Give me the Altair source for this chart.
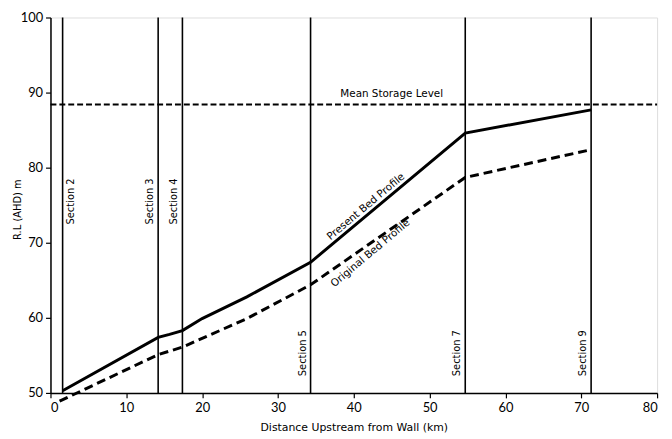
import altair as alt
import pandas as pd

# ---- data ----
section_names = ["Section 2", "Section 3", "Section 4", "Section 5", "Section 7", "Section 9"]
section_km = [1.6, 14.2, 17.4, 34.3, 54.7, 71.3]
section_side = ["right", "left", "left", "left", "left", "left"]
section_label_rl = [75.5, 75.5, 75.5, 55.3, 55.3, 55.3]
section_bottom = [50, 50, 50, 50, 50, 50]
section_top = [100, 100, 100, 100, 100, 100]

present_km = [1.6, 14.2, 15.7, 17.4, 20.0, 25.9, 34.3, 54.7, 71.3]
present_rl = [50.3, 57.4, 57.8, 58.3, 59.9, 62.8, 67.4, 84.6, 87.7]

original_km = [1.2, 14.2, 17.4, 25.9, 34.3, 54.7, 71.3]
original_rl = [48.9, 55.1, 56.1, 59.9, 64.4, 78.7, 82.4]

storage_km = [0, 80]
storage_rl = [88.4, 88.4]

text_labels = ["Mean Storage Level", "Present Bed Profile", "Original Bed Profile"]
text_km = [45.0, 41.6, 42.2]
text_rl = [89.8, 74.8, 68.6]
text_angle = [0, 320, 320]

x_ticks = [0, 10, 20, 30, 40, 50, 60, 70, 80]
y_ticks = [50, 60, 70, 80, 90, 100]

FONT = "DejaVu Sans"
TICKFONT = "Lato"

sections = pd.DataFrame({"name": section_names, "km": section_km, "side": section_side,
                         "lrl": section_label_rl, "y0": section_bottom, "y1": section_top})
present = pd.DataFrame({"km": present_km, "rl": present_rl})
original = pd.DataFrame({"km": original_km, "rl": original_rl})
storage = pd.DataFrame({"km": storage_km, "rl": storage_rl})
labels = pd.DataFrame({"t": text_labels, "km": text_km, "rl": text_rl, "a": text_angle})

xs = alt.Scale(domain=[0, 80], nice=False, zero=False)
ys = alt.Scale(domain=[50, 100], nice=False, zero=False)

x_axis = alt.Axis(values=x_ticks, title="Distance Upstream from Wall (km)", grid=False,
                  tickSize=5, labelPadding=4, titlePadding=7, domainColor="black",
                  domainWidth=1.5, tickColor="black", tickWidth=1.2, labelColor="black",
                  titleColor="black", labelFont=TICKFONT, titleFont=FONT, labelFontSize=13,
                  titleFontSize=11, titleFontWeight="normal")
y_axis = alt.Axis(values=y_ticks, title="R.L (AHD) m", grid=False, tickSize=5,
                  labelPadding=3, domainColor="black", domainWidth=1.5,
                  tickColor="black", tickWidth=1.2, labelColor="black", titleColor="black",
                  labelFont=TICKFONT, titleFont=FONT, labelFontSize=13, titleFontSize=10,
                  titleFontWeight="normal", titleX=-33, titleY=194, titleAngle=270,
                  titleAlign="center", titleBaseline="middle")


def X(f):
    return alt.X(f, scale=xs, axis=x_axis)


def Y(f):
    return alt.Y(f, scale=ys, axis=y_axis)


present_line = alt.Chart(present).mark_line(color="black", strokeWidth=3, clip=False).encode(
    x=X("km:Q"), y=Y("rl:Q"))

original_line = alt.Chart(original).mark_line(color="black", strokeWidth=3, strokeDash=[9, 5],
                                              clip=False).encode(x=X("km:Q"), y=Y("rl:Q"))

storage_line = alt.Chart(storage).mark_line(color="black", strokeWidth=2, strokeDash=[6, 3]).encode(
    x=X("km:Q"), y=Y("rl:Q"))

section_rules = alt.Chart(sections).mark_rule(color="black", strokeWidth=1.6).encode(
    x=X("km:Q"), y=Y("y0:Q"), y2="y1:Q")

sec_left = alt.Chart(sections).transform_filter(alt.datum.side == "left").mark_text(
    angle=270, baseline="bottom", align="center", dy=-3, font=FONT, fontSize=10, color="black"
).encode(x=X("km:Q"), y=Y("lrl:Q"), text="name:N")

sec_right = alt.Chart(sections).transform_filter(alt.datum.side == "right").mark_text(
    angle=270, baseline="top", align="center", dy=4, font=FONT, fontSize=10, color="black"
).encode(x=X("km:Q"), y=Y("lrl:Q"), text="name:N")

misc_text = alt.Chart(labels).mark_text(baseline="middle", align="center", font=FONT,
                                        fontSize=10.5, color="black").encode(
    x=X("km:Q"), y=Y("rl:Q"), text="t:N", angle=alt.Angle("a:Q", scale=None))

chart = alt.layer(present_line, original_line, storage_line, section_rules, sec_left, sec_right,
                  misc_text).properties(
    width=614, height=380,
    autosize=alt.AutoSizeParams(type="none"),
    padding={"left": 43, "top": 7, "right": 7, "bottom": 42},
).configure_view(strokeWidth=0).configure(background="white")

chart.save("out.html", embed_options={"renderer": "svg", "actions": False})
